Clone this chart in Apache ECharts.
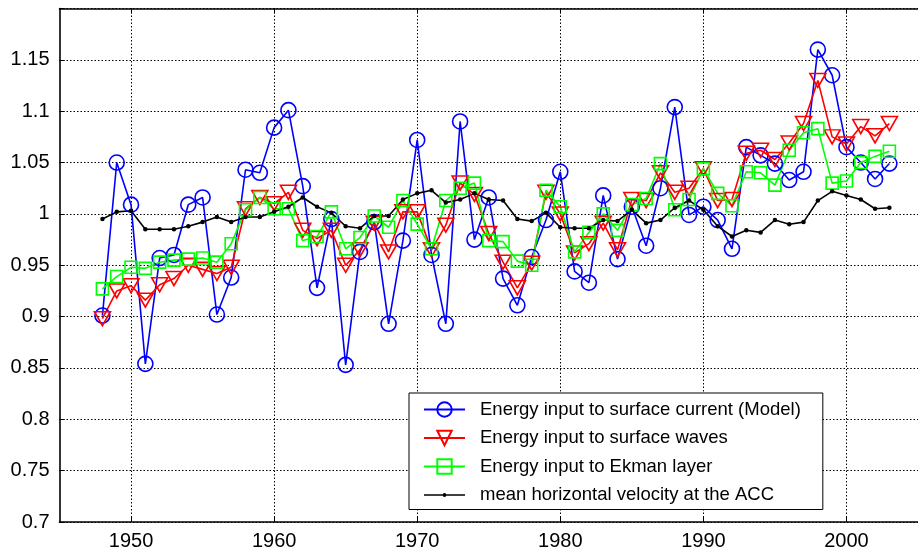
<!DOCTYPE html>
<html>
<head>
<meta charset="utf-8">
<script src="https://cdn.jsdelivr.net/npm/echarts@6/dist/echarts.min.js"></script>
<style>
  html, body { margin: 0; padding: 0; background: #fff; }
  #chart { width: 918px; height: 551px; }
</style>
</head>
<body>
<div id="chart"></div>
<script>
// years of the record
var years = [1948, 1949, 1950, 1951, 1952, 1953, 1954, 1955, 1956, 1957,
  1958, 1959, 1960, 1961, 1962, 1963, 1964, 1965, 1966, 1967,
  1968, 1969, 1970, 1971, 1972, 1973, 1974, 1975, 1976, 1977,
  1978, 1979, 1980, 1981, 1982, 1983, 1984, 1985, 1986, 1987,
  1988, 1989, 1990, 1991, 1992, 1993, 1994, 1995, 1996, 1997,
  1998, 1999, 2000, 2001, 2002, 2003]

// Energy input to surface current (Model)
var currentVals = [0.901, 1.050, 1.009, 0.854, 0.957, 0.960, 1.009, 1.016, 0.902, 0.938,
  1.043, 1.040, 1.084, 1.101, 1.027, 0.928, 0.995, 0.853, 0.963, 0.992,
  0.893, 0.974, 1.072, 0.960, 0.893, 1.090, 0.975, 1.016, 0.937, 0.911,
  0.958, 0.994, 1.041, 0.944, 0.933, 1.018, 0.956, 1.007, 0.969, 1.025,
  1.104, 0.999, 1.007, 0.994, 0.966, 1.065, 1.057, 1.049, 1.033, 1.041,
  1.160, 1.135, 1.065, 1.050, 1.034, 1.049]

// Energy input to surface waves
var wavesVals = [0.898, 0.925, 0.930, 0.916, 0.931, 0.937, 0.950, 0.946, 0.942, 0.948,
  1.005, 1.016, 1.010, 1.021, 0.984, 0.976, 0.984, 0.950, 0.965, 0.991,
  0.963, 1.002, 1.002, 0.965, 0.989, 1.030, 1.019, 0.981, 0.953, 0.928,
  0.952, 1.021, 1.000, 0.962, 0.971, 0.991, 0.965, 1.014, 1.013, 1.040,
  1.021, 1.025, 1.044, 1.013, 1.014, 1.059, 1.062, 1.053, 1.069, 1.088,
  1.130, 1.075, 1.068, 1.085, 1.076, 1.088]

// Energy input to Ekman layer
var ekmanVals = [0.927, 0.939, 0.948, 0.947, 0.953, 0.955, 0.956, 0.957, 0.953, 0.971,
  1.004, 1.016, 1.005, 1.005, 0.974, 0.978, 1.002, 0.966, 0.977, 0.998,
  0.987, 1.013, 0.990, 0.966, 1.013, 1.025, 1.030, 0.974, 0.973, 0.954,
  0.950, 1.023, 1.007, 0.963, 0.982, 1.000, 0.984, 1.009, 1.015, 1.049,
  1.004, 1.014, 1.044, 1.020, 1.008, 1.041, 1.040, 1.028, 1.062, 1.079,
  1.083, 1.030, 1.032, 1.050, 1.056, 1.061]

// mean horizontal velocity at the ACC
var velocityVals = [0.995, 1.002, 1.003, 0.985, 0.985, 0.985, 0.988, 0.992, 0.997, 0.992,
  0.997, 0.997, 1.002, 1.007, 1.016, 1.007, 1.001, 0.988, 0.986, 0.998,
  0.998, 1.014, 1.020, 1.023, 1.011, 1.014, 1.020, 1.014, 1.013, 0.995,
  0.993, 1.001, 0.987, 0.986, 0.986, 0.994, 0.993, 1.004, 0.991, 0.994,
  1.006, 1.013, 1.004, 0.988, 0.978, 0.984, 0.982, 0.994, 0.990, 0.992,
  1.013, 1.022, 1.018, 1.014, 1.005, 1.006]

var xTickValues = [1950, 1960, 1970, 1980, 1990, 2000]

function pairs(vals) {
  return vals.map(function (v, i) { return [years[i], v] })
}

var font = 'Liberation Sans, Arial, Helvetica, sans-serif'
var gridLine = { show: true, lineStyle: { color: '#000', width: 1, type: [1.5, 2] } }

var chart = echarts.init(document.getElementById('chart'), null, { renderer: 'canvas' })

var option = {
  animation: false,
  backgroundColor: '#fff',
  textStyle: { fontFamily: font },
  grid: { left: 59.5, top: 8.5, width: 869, height: 513.5, containLabel: false },
  legend: {
    orient: 'vertical',
    left: 409,
    top: 393,
    padding: [7, 22, 5, 14],
    itemGap: 9.5,
    itemWidth: 41,
    itemHeight: 18,
    backgroundColor: '#fff',
    borderColor: '#000',
    borderWidth: 1,
    borderRadius: 0,
    selectedMode: false,
    z: 10,
    textStyle: { fontFamily: font, fontSize: 18.5, lineHeight: 18, color: '#000', padding: [0, 0, 0, 10] },
    data: [
      'Energy input to surface current (Model)',
      'Energy input to surface waves',
      'Energy input to Ekman layer',
      {
        // line with a small dot, drawn in a 41x18 box
        name: 'mean horizontal velocity at the ACC',
        icon: 'path://M0,0 M41,18 M0,8.2 L41,8.2 L41,9.8 L0,9.8 Z M18.6,9 A1.9,1.9 0 1 1 22.4,9 A1.9,1.9 0 1 1 18.6,9 Z'
      }
    ]
  },
  xAxis: [
    {
      type: 'value',
      min: 1945,
      max: 2005,
      axisLine: { show: true, onZero: false, lineStyle: { color: '#000', width: 1.6 } },
      axisTick: { show: true, inside: true, length: 5, customValues: xTickValues, lineStyle: { color: '#000' } },
      axisLabel: {
        customValues: xTickValues,
        color: '#000',
        fontSize: 20,
        margin: 9,
        fontFamily: font,
        formatter: function (v) { return String(v) }
      },
      splitLine: gridLine
    },
    {
      type: 'value',
      position: 'top',
      min: 1945,
      max: 2005,
      axisLine: { show: true, onZero: false, lineStyle: { color: '#000', width: 1.6 } },
      axisTick: { show: true, inside: true, length: 5, customValues: xTickValues, lineStyle: { color: '#000' } },
      axisLabel: { show: false },
      splitLine: { show: false }
    }
  ],
  yAxis: {
    type: 'value',
    min: 0.7,
    max: 1.2,
    interval: 0.05,
    axisLine: { show: true, onZero: false, lineStyle: { color: '#000', width: 1.6 } },
    axisTick: { show: true, inside: true, length: 5, lineStyle: { color: '#000' } },
    axisLabel: {
      color: '#000',
      fontSize: 20,
      margin: 10,
      fontFamily: font,
      formatter: function (v) {
        if (v > 1.19) return ''
        return String(Math.round(v * 100) / 100)
      }
    },
    splitLine: gridLine
  },
  series: [
    {
      name: 'Energy input to surface current (Model)',
      type: 'line',
      data: pairs(currentVals),
      symbol: 'circle',
      symbolSize: 15,
      showAllSymbol: true,
      lineStyle: { color: '#0000ff', width: 1.6 },
      itemStyle: { color: 'rgba(0,0,0,0)', borderColor: '#0000ff', borderWidth: 1.6 }
    },
    {
      name: 'Energy input to surface waves',
      type: 'line',
      data: pairs(wavesVals),
      symbol: 'triangle',
      symbolRotate: 180,
      symbolSize: [16, 14],
      showAllSymbol: true,
      lineStyle: { color: '#ff0000', width: 1.6 },
      itemStyle: { color: 'rgba(0,0,0,0)', borderColor: '#ff0000', borderWidth: 1.6 }
    },
    {
      name: 'Energy input to Ekman layer',
      type: 'line',
      data: pairs(ekmanVals),
      symbol: 'rect',
      symbolSize: 12,
      showAllSymbol: true,
      lineStyle: { color: '#00ff00', width: 1.6 },
      itemStyle: { color: 'rgba(0,0,0,0)', borderColor: '#00ff00', borderWidth: 1.6 }
    },
    {
      name: 'mean horizontal velocity at the ACC',
      type: 'line',
      data: pairs(velocityVals),
      symbol: 'circle',
      symbolSize: 4.5,
      showAllSymbol: true,
      lineStyle: { color: '#000', width: 1.6 },
      itemStyle: { color: '#000' }
    }
  ]
}

chart.setOption(option)
</script>
</body>
</html>
